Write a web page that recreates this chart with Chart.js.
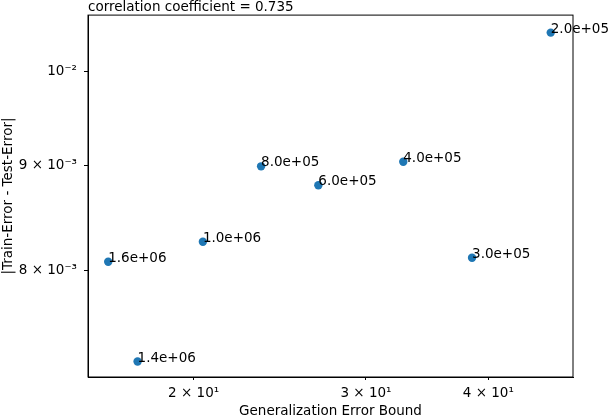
<!DOCTYPE html>
<html>
<head>
<meta charset="utf-8">
<script src="https://cdn.jsdelivr.net/npm/chart.js@4"></script>
<style>
  html, body { margin: 0; padding: 0; background: #fff; }
  #wrap { width: 608px; height: 420px; }
</style>
</head>
<body>
<div id="wrap"><canvas id="chart"></canvas></div>
<script>
// data
const boundValues = [46.33, 32.75, 26.82, 23.44, 20.44, 17.53, 16.36, 38.50];
const gapValues = [0.010443, 0.009037, 0.008801, 0.008990, 0.008262, 0.007224, 0.008079, 0.008115];
const pointLabels = ["2.0e+05", "4.0e+05", "6.0e+05", "8.0e+05", "1.0e+06", "1.4e+06", "1.6e+06", "3.0e+05"];

const xTickValues = [20, 30, 40];
const xTickLabels = ["2 × 10¹", "3 × 10¹", "4 × 10¹"];
const yTickValues = [0.008, 0.009, 0.01];
const yTickLabels = ["8 × 10⁻³", "9 × 10⁻³", "10⁻²"];

const FONT = "'DejaVu Sans', sans-serif";

// frame around the plot + text next to each point
const framePlugin = {
    id: "frame",
    afterDatasetsDraw(chart) {
        const { ctx, chartArea: a } = chart;
        ctx.save();
        ctx.strokeStyle = "#000";
        ctx.lineWidth = 1;
        ctx.strokeRect(a.left, a.top, a.right - a.left, a.bottom - a.top);

        const meta = chart.getDatasetMeta(0);
        ctx.fillStyle = "#000";
        ctx.font = "13.5px " + FONT;
        ctx.textAlign = "left";
        ctx.textBaseline = "alphabetic";
        meta.data.forEach((pt, i) => {
            ctx.fillText(pointLabels[i], pt.x, pt.y);
        });
        ctx.restore();
    },
};

const ctx = document.getElementById("chart").getContext("2d");
const chart = new Chart(ctx, {
    type: "scatter",
    data: {
        datasets: [
            {
                data: boundValues.map((v, i) => ({ x: v, y: gapValues[i] })),
                backgroundColor: "#1f77b4",
                borderWidth: 0,
                pointRadius: 4.2,
                clip: false,
            },
        ],
    },
    options: {
        responsive: true,
        maintainAspectRatio: false,
        animation: false,
        layout: { padding: { top: 0, right: 35, left: 0, bottom: 0 } },
        plugins: {
            legend: { display: false },
            tooltip: { enabled: false },
            title: {
                display: true,
                text: "correlation coefficient = 0.735",
                align: "start",
                fullSize: false,
                color: "#000",
                font: { family: FONT, size: 13.5, weight: "normal", lineHeight: 1.1 },
                padding: { top: 0, bottom: 0 },
            },
        },
        scales: {
            x: {
                type: "logarithmic",
                min: 15.6,
                max: 48.82,
                bounds: "data",
                afterBuildTicks: (scale) => {
                    scale.ticks = xTickValues.map((v) => ({ value: v }));
                },
                afterFit: (scale) => {
                    scale.height = 43;
                },
                ticks: {
                    autoSkip: false,
                    maxRotation: 0,
                    color: "#000",
                    padding: 5,
                    font: { family: FONT, size: 13.5 },
                    callback: (v) => xTickLabels[xTickValues.indexOf(v)],
                },
                grid: {
                    drawOnChartArea: false,
                    tickLength: 3,
                    tickColor: "#000",
                },
                border: { color: "#000" },
                title: {
                    display: true,
                    text: "Generalization Error Bound",
                    color: "#000",
                    font: { family: FONT, size: 13.5 },
                    padding: 0,
                },
            },
            y: {
                type: "logarithmic",
                min: 0.0071,
                max: 0.01065,
                bounds: "data",
                afterBuildTicks: (scale) => {
                    scale.ticks = yTickValues.map((v) => ({ value: v }));
                },
                afterFit: (scale) => {
                    scale.width = 88;
                },
                ticks: {
                    autoSkip: false,
                    color: "#000",
                    padding: 7,
                    font: { family: FONT, size: 13.5 },
                    callback: (v) => yTickLabels[yTickValues.indexOf(v)],
                },
                grid: {
                    drawOnChartArea: false,
                    tickLength: 4,
                    tickColor: "#000",
                },
                border: { color: "#000" },
                title: {
                    display: true,
                    text: "|Train-Error - Test-Error|",
                    color: "#000",
                    font: { family: FONT, size: 13.5 },
                    padding: 0,
                },
            },
        },
    },
    plugins: [framePlugin],
});
</script>
</body>
</html>
